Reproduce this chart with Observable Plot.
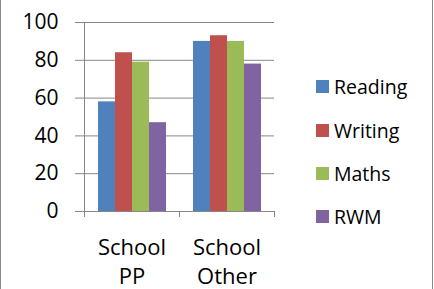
<!DOCTYPE html>
<html><head><meta charset="utf-8">
<script src="https://cdn.jsdelivr.net/npm/d3@7"></script>
<script src="https://cdn.jsdelivr.net/npm/@observablehq/plot@0.6"></script>
<style>
html,body{margin:0;padding:0;background:#fff;}
#wrap{position:relative;width:434px;height:289px;overflow:hidden;font-family:"Open Sans",sans-serif;color:#000;}
#wrap svg{position:absolute;left:0;top:0;}
.edge{position:absolute;top:0;width:1px;height:289px;background:#8a8a8a;}
.item{position:absolute;left:316px;height:20px;display:flex;align-items:center;white-space:nowrap;font-size:19.5px;color:#000;}
.sw{width:13px;height:13px;margin-right:5px;flex:none;}
</style></head><body><div id="wrap"></div>
<script>
const categories = ["School PP", "School Other"];
const categoryLabels = ["School\nPP", "School\nOther"];
const series = ["Reading", "Writing", "Maths", "RWM"];
const reading = [58, 90];
const writing = [84, 93];
const maths = [79, 90];
const rwm = [47, 78];
const yTicks = [0, 20, 40, 60, 80, 100];
const colors = ["#4F81BD", "#C0504D", "#9BBB59", "#8064A2"];

const values = [reading, writing, maths, rwm];
const rows = series.flatMap((s, si) => categories.map((c, ci) => ({category: c, series: s, value: values[si][ci]})));
const gray = "#868686";

const chart = Plot.plot({
  width: 434, height: 289,
  marginLeft: 83, marginRight: 160, marginTop: 22, marginBottom: 78,
  style: {fontFamily: "'Open Sans', sans-serif", background: "transparent", overflow: "visible", color: "#000"},
  fx: {domain: categories, paddingInner: 0, paddingOuter: 0},
  x: {domain: series, paddingInner: 0, paddingOuter: 0.745, axis: null},
  y: {domain: [0, 100]},
  color: {domain: series, range: colors},
  marks: [
    Plot.gridY(yTicks, {stroke: gray, strokeOpacity: 1}),
    Plot.axisY(yTicks, {tickSize: 9, tickPadding: 17, stroke: gray, strokeOpacity: 1, fill: "#000", fontSize: 21, label: null}),
    Plot.barY(rows, {fx: "category", x: "series", y: "value", fill: "series", inset: 0}),
    Plot.frame({anchor: "left", stroke: gray, facetAnchor: "left", insetBottom: -5}),
    Plot.frame({anchor: "left", stroke: gray, insetTop: 189, insetBottom: -5}),
    Plot.frame({anchor: "right", stroke: gray, facetAnchor: "right", insetTop: 189, insetBottom: -5}),
    Plot.ruleY([0], {stroke: gray}),
    Plot.axisFx({anchor: "bottom", tickSize: 0, tickPadding: 22, fontSize: 22, lineHeight: 1.35, fill: "#000",
      tickFormat: d => categoryLabels[categories.indexOf(d)], label: null})
  ]
});

const wrap = document.getElementById("wrap");
wrap.appendChild(chart);
for (const x of [0, 432]) {
  const e = document.createElement("div");
  e.className = "edge"; e.style.left = x + "px";
  wrap.appendChild(e);
}
const rowCenters = [86, 130, 173, 216];
series.forEach((s, i) => {
  const it = document.createElement("div");
  it.className = "item";
  it.style.top = (rowCenters[i] - 10) + "px";
  const sw = document.createElement("span");
  sw.className = "sw"; sw.style.background = colors[i];
  const t = document.createElement("span");
  t.textContent = s;
  it.appendChild(sw); it.appendChild(t);
  wrap.appendChild(it);
});
</script></body></html>
